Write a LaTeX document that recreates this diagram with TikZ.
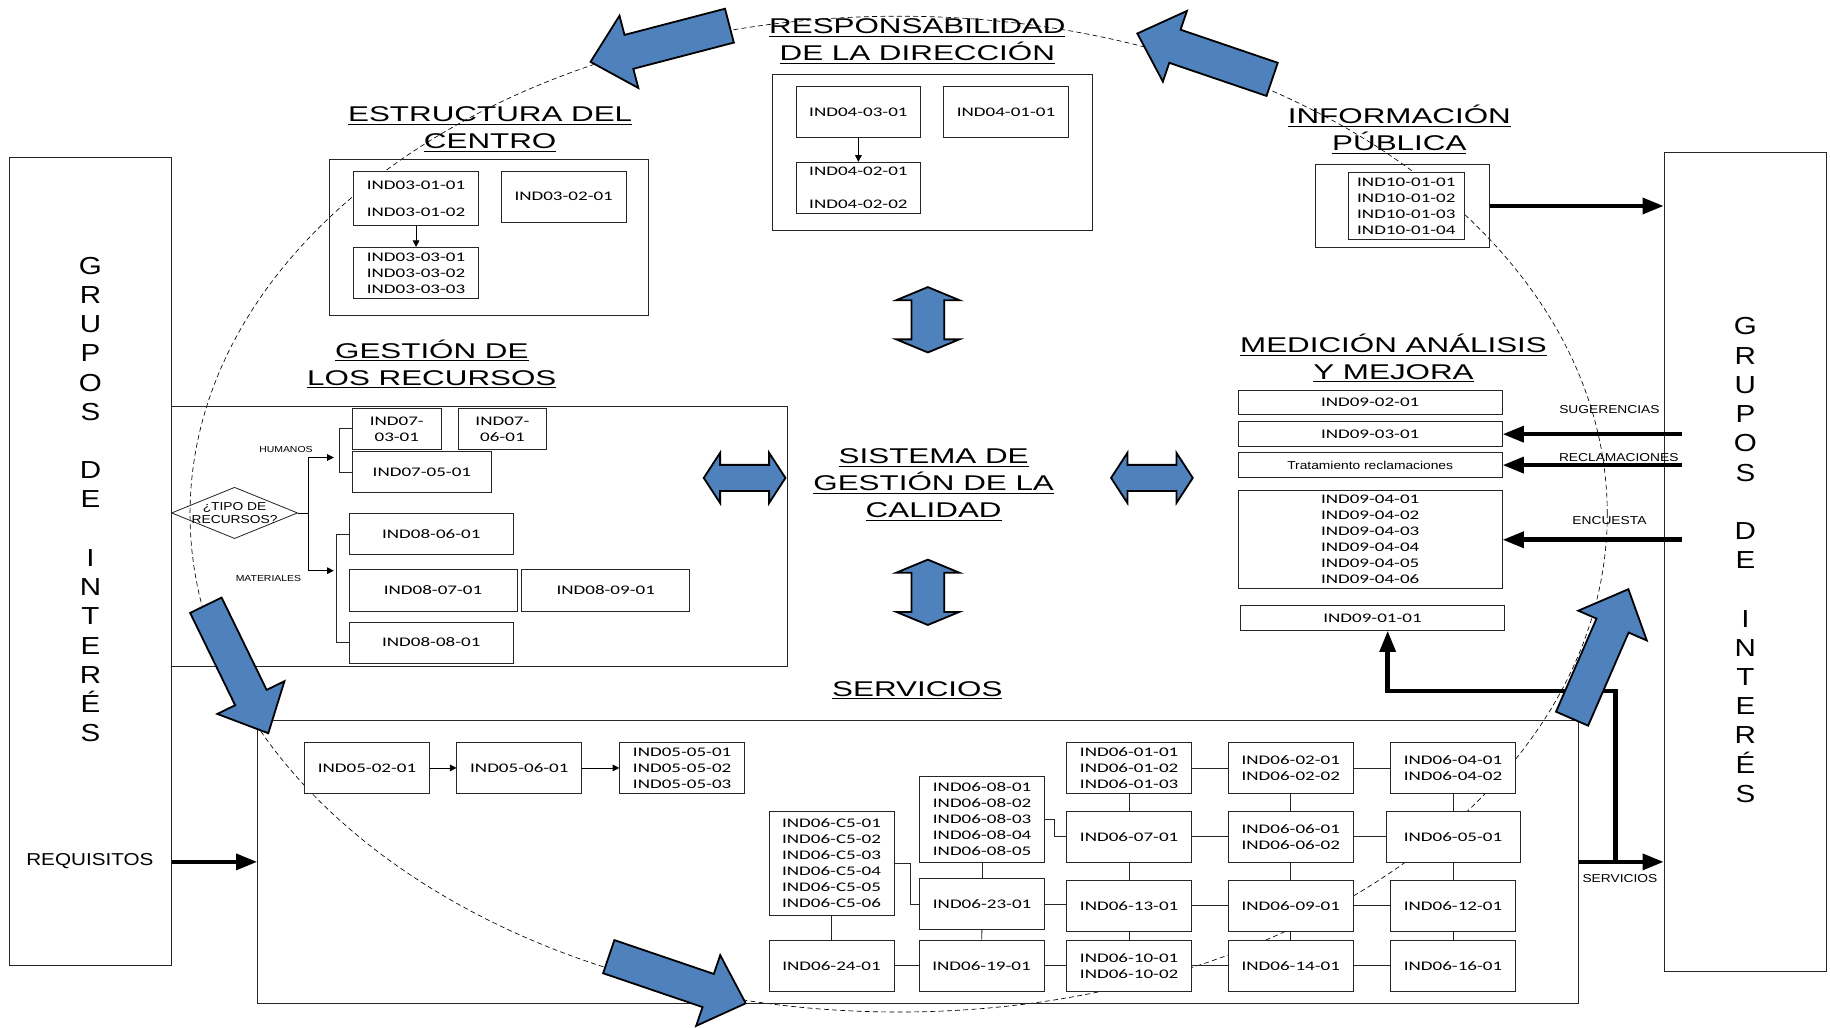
\documentclass[tikz,border=0pt]{standalone}
\usepackage{fontspec}
\usepackage{tikz}
\usetikzlibrary{arrows.meta, shapes.geometric}
\setmainfont{Liberation Sans}
\newfontfamily\titlefont[FakeStretch=1.47]{Liberation Sans}
\newfontfamily\labelfont[FakeStretch=1.2]{Liberation Sans}
\newfontfamily\indfont[FakeStretch=1.45]{Carlito}
\definecolor{blockblue}{RGB}{79,129,189}
\tikzset{
    ind-box/.style = {draw=black!85, fill=white, line width=0.5pt, rectangle, inner sep=0pt, align=center, minimum width=2.675cm, minimum height=1.1cm, font=\indfont\fontsize{8}{9.75}\selectfont},
    area-box/.style = {draw=black!85, line width=0.5pt},
    area-title/.style = {align=center, inner sep=0pt, font=\titlefont\fontsize{13}{16.4}\selectfont},
    small-label/.style = {inner sep=0pt, font=\labelfont\fontsize{7}{8}\selectfont},
    tiny-label/.style = {inner sep=0pt, font=\labelfont\fontsize{5.3}{6}\selectfont},
    group-box/.style = {draw=black!85, line width=0.5pt, rectangle, minimum width=3.475cm},
    group-text/.style = {align=center, inner sep=0pt, font=\labelfont\fontsize{15}{17.8}\selectfont},
    decision/.style = {draw=black!85, line width=0.5pt, diamond, minimum width=2.7cm, minimum height=1.1cm, inner sep=0pt},
    link/.style = {draw=black!85, line width=0.5pt},
    small-arrow/.style = {line width=0.5pt, -{Triangle[length=4pt, width=4pt]}},
    thick-arrow/.style = {line width=2.8pt, -{Triangle[length=13pt, width=9.5pt]}},
    block-arrow/.style = {fill=blockblue, draw=black, line width=1.1pt, line join=miter},
    orbit/.style = {line width=0.4pt, dash pattern=on 3pt off 2pt},
}
\newcommand{\blockarrow}[4]{%
  \draw[block-arrow, shift={(#1,#2)}, rotate=#3]
    (0,-15) -- (#4-34,-15) -- (#4-34,-32) -- (#4,0) -- (#4-34,32) -- (#4-34,15) -- (0,15) -- cycle;}
\newcommand{\dblarrow}[5]{%
  \draw[block-arrow, shift={(#1,#2)}, rotate=#3]
    (-#4,0) -- (-0.6*#4,-#5) -- (-0.6*#4,-0.52*#5) -- (0.6*#4,-0.52*#5) -- (0.6*#4,-#5)
    -- (#4,0) -- (0.6*#4,#5) -- (0.6*#4,0.52*#5) -- (-0.6*#4,0.52*#5) -- (-0.6*#4,#5) -- cycle;}

\begin{document}
\begin{tikzpicture}[x=0.025cm, y=-0.025cm]
\fill[white] (0,0) rectangle (1568,880);
\useasboundingbox (0,0) rectangle (1568,880);

\draw[orbit] (770,440.5) ellipse [x radius=15.175cm, y radius=10.6625cm];

% grupos de interes
\node[group-box, minimum height=17.3cm] (grupos-izq) at (77.5,481) {};
\node[group-text] (grupos-izq-txt) at (77.5,428) {G\\R\\U\\P\\O\\S\\[17.8pt]D\\E\\[17.8pt]I\\N\\T\\E\\R\\É\\S};
\node[group-box, minimum height=17.525cm] (grupos-der) at (1495.5,481.5) {};
\node[group-text] (grupos-der-txt) at (1495.5,480) {G\\R\\U\\P\\O\\S\\[17.8pt]D\\E\\[17.8pt]I\\N\\T\\E\\R\\É\\S};
\node[small-label, font=\labelfont\fontsize{10.5}{12}\selectfont] (requisitos) at (77,738) {REQUISITOS};

% titulos
\node[area-title] (t-direccion) at (786,35.5) {\underline{RESPONSABILIDAD}\\\underline{DE LA DIRECCIÓN}};
\node[area-title] (t-estructura) at (420,111) {\underline{ESTRUCTURA DEL}\\\underline{CENTRO}};
\node[area-title] (t-informacion) at (1199,111) {\underline{INFORMACIÓN}\\\underline{PÚBLICA}};
\node[area-title] (t-recursos) at (370,312) {\underline{GESTIÓN DE}\\\underline{LOS RECURSOS}};
\node[area-title] (t-medicion) at (1194,307) {\underline{MEDICIÓN ANÁLISIS}\\\underline{Y MEJORA}};
\node[area-title] (t-sistema) at (800,415.5) {\underline{SISTEMA DE}\\\underline{GESTIÓN DE LA}\\\underline{CALIDAD}};
\node[area-title] (t-servicios) at (786,591.5) {\underline{SERVICIOS}};

% estructura del centro
\draw[area-box] (282,137) rectangle (556,270);
\node[ind-box, minimum height=1.15cm] (e1) at (356.5,170) {IND03-01-01\\[6.6pt]IND03-01-02};
\node[ind-box] (e2) at (483,168.5) {IND03-02-01};
\node[ind-box] (e3) at (356.5,234) {IND03-03-01\\IND03-03-02\\IND03-03-03};
\draw[small-arrow] (e1) -- (e3);

% responsabilidad de la direccion
\draw[area-box] (662,64) rectangle (936,197);
\node[ind-box] (r1) at (735.5,96) {IND04-03-01};
\node[ind-box] (r2) at (862,96) {IND04-01-01};
\node[ind-box] (r3) at (735.5,161) {IND04-02-01\\[10.2pt]IND04-02-02};
\draw[small-arrow] (r1) -- (r3);

% informacion publica
\node[area-box, minimum width=3.725cm, minimum height=1.775cm, inner sep=0pt] (info) at (1201.5,176.5) {};
\node[ind-box, minimum width=2.5cm, minimum height=1.425cm] (info-ind) at (1205,176.5) {IND10-01-01\\IND10-01-02\\IND10-01-03\\IND10-01-04};
\draw[thick-arrow] (info.east) -- (info.east -| grupos-der.west);

% gestion de los recursos
\draw[area-box] (147,348) rectangle (675,571);
\node[decision, label={[small-label, align=center]center:{¿TIPO DE\\RECURSOS?}}] (tipo) at (201,439.5) {};
\node[ind-box, minimum width=1.9cm, minimum height=0.875cm] (h1) at (340,367.5) {IND07-\\03-01};
\node[ind-box, minimum width=1.9cm, minimum height=0.875cm] (h2) at (430.5,367.5) {IND07-\\06-01};
\node[ind-box, minimum width=2.975cm, minimum height=0.875cm] (h3) at (361.5,404.5) {IND07-05-01};
\node[ind-box, minimum width=3.525cm, minimum height=0.875cm] (m1) at (369.5,457.5) {IND08-06-01};
\node[ind-box, minimum width=3.6cm, minimum height=0.9cm] (m2) at (371,506) {IND08-07-01};
\node[ind-box, minimum width=3.6cm, minimum height=0.9cm] (m3) at (519,506) {IND08-09-01};
\node[ind-box, minimum width=3.525cm, minimum height=0.875cm] (m4) at (369.5,550.5) {IND08-08-01};
\node[tiny-label] (humanos) at (245,385) {HUMANOS};
\node[tiny-label] (materiales) at (230,496) {MATERIALES};
\coordinate (hum-in) at (286,392);
\coordinate (mat-in) at (286,489);
\draw[small-arrow] (tipo.east) -- ++(9,0) |- (hum-in);
\draw[small-arrow] (tipo.east) ++(9,0) |- (mat-in);
\draw[link] (h1.west) -- ++(-11,0) |- (h3.west);
\draw[link] (m1.west) -- ++(-10.5,0) |- (m4.west);

% medicion analisis y mejora
\node[ind-box, minimum width=5.65cm, minimum height=0.525cm] (q1) at (1174,345) {IND09-02-01};
\node[ind-box, minimum width=5.65cm, minimum height=0.525cm] (q2) at (1174,372) {IND09-03-01};
\node[ind-box, minimum width=5.65cm, minimum height=0.525cm, font=\labelfont\fontsize{7}{8}\selectfont] (q3) at (1174,398.5) {Tratamiento reclamaciones};
\node[ind-box, minimum width=5.65cm, minimum height=2.1cm] (q4) at (1174,462.5) {IND09-04-01\\IND09-04-02\\IND09-04-03\\IND09-04-04\\IND09-04-05\\IND09-04-06};
\node[ind-box, minimum width=5.65cm, minimum height=0.525cm] (q5) at (1176,529.5) {IND09-01-01};
\coordinate (sug-in) at (1441,372);
\coordinate (rec-in) at (1441,398.5);
\coordinate (enc-in) at (1441,462.5);
\draw[thick-arrow] (sug-in) -- (q2.east);
\draw[thick-arrow] (rec-in) -- (q3.east);
\draw[thick-arrow] (enc-in) -- (q4.east);
\node[small-label] (sugerencias) at (1379,351) {SUGERENCIAS};
\node[small-label] (reclamaciones) at (1387,392) {RECLAMACIONES};
\node[small-label] (encuesta) at (1379,446) {ENCUESTA};

% servicios
\node[area-box, minimum width=28.275cm, minimum height=6.075cm, inner sep=0pt] (servicios-area) at (786.5,738.5) {};
\node[ind-box] (s1) at (314.5,658) {IND05-02-01};
\node[ind-box] (s2) at (445,658) {IND05-06-01};
\node[ind-box] (s3) at (584.5,658) {IND05-05-01\\IND05-05-02\\IND05-05-03};
\draw[small-arrow] (s1) -- (s2);
\draw[small-arrow] (s2) -- (s3);
\node[ind-box, minimum height=2.225cm] (c5) at (712.5,739.5) {IND06-C5-01\\IND06-C5-02\\IND06-C5-03\\IND06-C5-04\\IND06-C5-05\\IND06-C5-06};
\node[ind-box, minimum height=1.85cm] (s08) at (841.5,702) {IND06-08-01\\IND06-08-02\\IND06-08-03\\IND06-08-04\\IND06-08-05};
\node[ind-box] (s23) at (841.5,774.5) {IND06-23-01};
\node[ind-box] (s24) at (712.5,827.5) {IND06-24-01};
\node[ind-box] (s19) at (841,827.5) {IND06-19-01};
\node[ind-box] (g11) at (967.5,658) {IND06-01-01\\IND06-01-02\\IND06-01-03};
\node[ind-box] (g12) at (1106,658) {IND06-02-01\\IND06-02-02};
\node[ind-box] (g13) at (1245,658) {IND06-04-01\\IND06-04-02};
\node[ind-box] (g21) at (967.5,717) {IND06-07-01};
\node[ind-box] (g22) at (1106,717) {IND06-06-01\\IND06-06-02};
\node[ind-box, minimum width=2.875cm] (g23) at (1245,717) {IND06-05-01};
\node[ind-box] (g31) at (967.5,776) {IND06-13-01};
\node[ind-box] (g32) at (1106,776) {IND06-09-01};
\node[ind-box] (g33) at (1245,776) {IND06-12-01};
\node[ind-box] (g41) at (967.5,827.5) {IND06-10-01\\IND06-10-02};
\node[ind-box] (g42) at (1106,827.5) {IND06-14-01};
\node[ind-box] (g43) at (1245,827.5) {IND06-16-01};
\draw[link] (c5.east) -- ++(14,0) |- (s23.west);
\draw[link] (c5) -- (s24);
\draw[link] (s08) -- (s23);
\draw[link] (s23) -- (s19);
\draw[link] (s24) -- (s19);
\draw[link] (s19) -- (g41);
\draw[link] (s23.east) -- (s23.east -| g31.west);
\draw[link] (s08.east) -- ++(8,0) |- (g21.west);
\draw[link] (g11) -- (g12) -- (g13);
\draw[link] (g21) -- (g22) -- (g23);
\draw[link] (g31) -- (g32) -- (g33);
\draw[link] (g41) -- (g42) -- (g43);
\draw[link] (g11) -- (g21) -- (g31) -- (g41);
\draw[link] (g12) -- (g22) -- (g32) -- (g42);
\draw[link] (g13) -- (g23) -- (g33) -- (g43);

\draw[thick-arrow] (grupos-izq.east |- servicios-area.west) -- (servicios-area.west);
\draw[thick-arrow] (servicios-area.east) -- (servicios-area.east -| grupos-der.west);
\node[small-label] (servicios-out) at (1388,753) {SERVICIOS};
\coordinate (fb-start) at (1384,738.5);
\coordinate (fb-turn) at (1189,592);
\draw[thick-arrow] (fb-start) |- (fb-turn) -- (fb-turn |- q5.south);

% flechas del sistema
\dblarrow{638}{409.5}{0}{35}{21.5}
\dblarrow{987}{409.5}{0}{35}{21.5}
\dblarrow{795}{274}{90}{28}{27}
\dblarrow{795}{507.5}{90}{28}{27}

\blockarrow{625}{22}{194.6}{123}
\blockarrow{1090}{68}{161.2}{122}
\blockarrow{176.4}{518.6}{-64}{122}
\blockarrow{521.6}{819.7}{-18.8}{124}
\blockarrow{1347}{615.8}{66.5}{121}
\end{tikzpicture}
\end{document}
